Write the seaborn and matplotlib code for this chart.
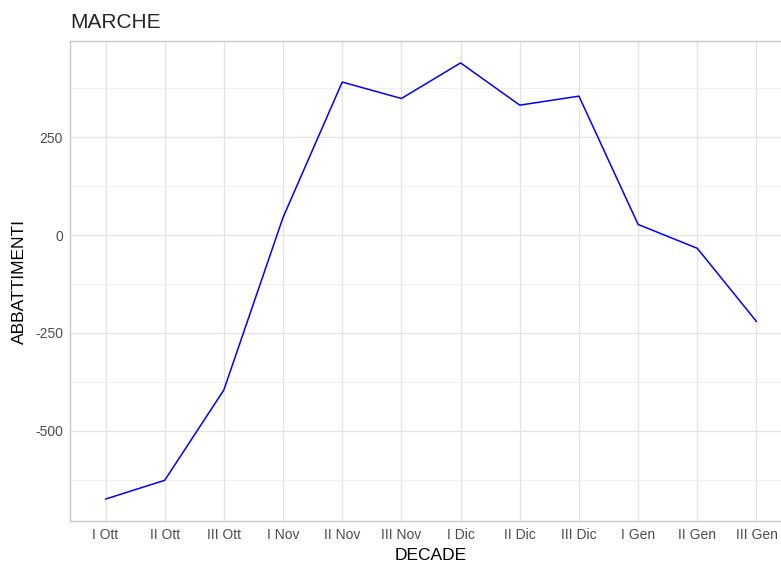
import matplotlib
matplotlib.use("Agg")
import matplotlib.pyplot as plt
import pandas as pd
import seaborn as sns

# decades (x axis) and culls (y axis)
decadi = ["I Ott", "II Ott", "III Ott", "I Nov", "II Nov", "III Nov",
          "I Dic", "II Dic", "III Dic", "I Gen", "II Gen", "III Gen"]
abbattimenti = [-675, -627, -396, 45, 391, 349, 440, 332, 355, 27, -34, -221]

df = pd.DataFrame({"DECADE": decadi, "ABBATTIMENTI": abbattimenti})
df["pos"] = range(len(df))

sns.set_style("white")
plt.rcParams["font.family"] = ["Liberation Sans", "DejaVu Sans"]

fig = plt.figure(figsize=(7.81, 5.62), dpi=100)
# panel runs slightly past the right edge, as in the reference
ax = fig.add_axes([70 / 781, 1 - 521 / 562, 722 / 781, 480 / 562])

grid_col = "#e3e3e3"
for y in [-625, -375, -125, 125, 375]:
    ax.axhline(y, color="#efefef", lw=0.6, zorder=0)
for y in [-500, -250, 0, 250]:
    ax.axhline(y, color=grid_col, lw=0.9, zorder=0)
for x in df["pos"]:
    ax.axvline(x, color=grid_col, lw=0.9, zorder=0)

sns.lineplot(data=df, x="pos", y="ABBATTIMENTI", color="#0000ff", lw=1.1, ax=ax)

ax.set_xlim(-0.6, 11.6)
ax.set_ylim(-731, 496)
ax.set_xticks(df["pos"])
ax.set_xticklabels(decadi)
ax.set_yticks([-500, -250, 0, 250])
ax.set_yticklabels(["-500", "-250", "0", "250"])
ax.tick_params(axis="both", length=0, labelsize=10, labelcolor="#4d4d4d", pad=5)

for side in ["top", "bottom", "left", "right"]:
    ax.spines[side].set_color("#c8c8c8")
    ax.spines[side].set_linewidth(1.0)

ax.set_xlabel("DECADE", fontsize=12.5, color="black", labelpad=4)
ax.set_ylabel("ABBATTIMENTI", fontsize=12.5, color="black", labelpad=6)
ax.set_title("MARCHE", fontsize=15, loc="left", pad=9)

fig.savefig("out.png", dpi=100)
